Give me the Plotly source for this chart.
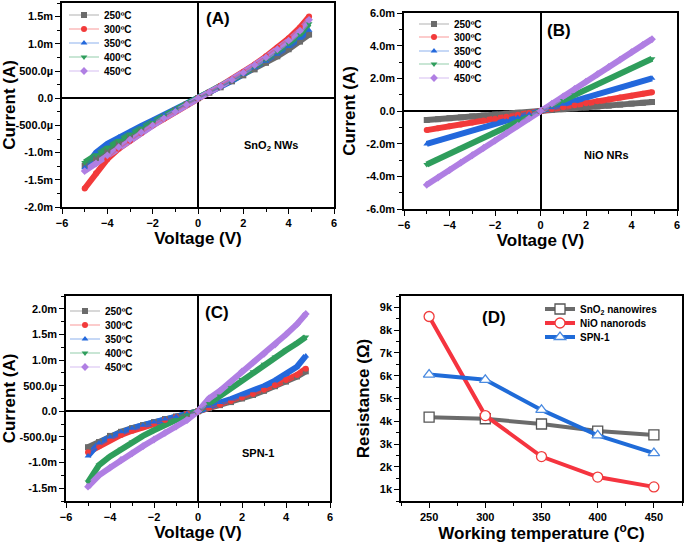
import plotly.graph_objects as go

# ---------------- data ----------------
voltage = [-5, -4.5, -4, -3.5, -3, -2.5, -2, -1.5, -1, -0.5, 0,
           0.5, 1, 1.5, 2, 2.5, 3, 3.5, 4, 4.5, 4.9]
temps = ["250ºC", "300ºC", "350ºC", "400ºC", "450ºC"]

# Panel A: SnO2 NWs, current in mA
a_250 = [-1.24, -1.1, -0.97, -0.84, -0.71, -0.58, -0.45, -0.34, -0.22, -0.11, 0, 0.1, 0.2, 0.31, 0.42, 0.53, 0.65, 0.77, 0.9, 1.04, 1.17]
a_300 = [-1.66, -1.38, -1.12, -0.93, -0.78, -0.64, -0.5, -0.38, -0.25, -0.12, 0, 0.11, 0.23, 0.35, 0.48, 0.62, 0.77, 0.93, 1.1, 1.3, 1.5]
a_350 = [-1.28, -1.0, -0.84, -0.72, -0.61, -0.51, -0.41, -0.31, -0.21, -0.1, 0, 0.1, 0.21, 0.32, 0.44, 0.56, 0.68, 0.81, 0.95, 1.1, 1.25]
a_400 = [-1.18, -1.04, -0.91, -0.78, -0.66, -0.55, -0.44, -0.33, -0.22, -0.11, 0, 0.1, 0.21, 0.33, 0.45, 0.58, 0.71, 0.85, 1.0, 1.17, 1.37]
a_450 = [-1.34, -1.2, -1.05, -0.9, -0.76, -0.63, -0.5, -0.37, -0.25, -0.12, 0, 0.11, 0.22, 0.34, 0.47, 0.61, 0.75, 0.9, 1.06, 1.24, 1.44]

# Panel B: NiO NRs, current in mA
b_250 = [-0.55, -0.5, -0.44, -0.39, -0.33, -0.28, -0.22, -0.17, -0.11, -0.06, 0, 0.06, 0.11, 0.17, 0.22, 0.28, 0.33, 0.39, 0.45, 0.5, 0.55]
b_300 = [-1.17, -1.05, -0.93, -0.82, -0.7, -0.58, -0.47, -0.35, -0.23, -0.12, 0, 0.12, 0.23, 0.35, 0.47, 0.59, 0.7, 0.82, 0.94, 1.06, 1.15]
b_350 = [-2.02, -1.82, -1.62, -1.42, -1.21, -1.01, -0.81, -0.61, -0.4, -0.2, 0, 0.2, 0.41, 0.61, 0.82, 1.02, 1.23, 1.43, 1.64, 1.84, 2.0]
b_400 = [-3.27, -2.94, -2.61, -2.28, -1.96, -1.63, -1.3, -0.98, -0.65, -0.33, 0, 0.33, 0.65, 0.98, 1.31, 1.63, 1.96, 2.29, 2.61, 2.94, 3.2]
b_450 = [-4.52, -4.07, -3.62, -3.16, -2.71, -2.26, -1.81, -1.36, -0.9, -0.45, 0, 0.45, 0.9, 1.35, 1.8, 2.25, 2.7, 3.15, 3.6, 4.05, 4.4]

# Panel C: SPN-1, current in mA
c_250 = [-0.7, -0.6, -0.48, -0.4, -0.33, -0.27, -0.21, -0.15, -0.1, -0.05, 0, 0.06, 0.12, 0.18, 0.25, 0.32, 0.4, 0.49, 0.58, 0.68, 0.78]
c_300 = [-0.8, -0.68, -0.55, -0.46, -0.38, -0.31, -0.24, -0.17, -0.11, -0.05, 0, 0.07, 0.13, 0.2, 0.27, 0.34, 0.42, 0.51, 0.61, 0.71, 0.83]
c_350 = [-0.87, -0.62, -0.5, -0.4, -0.33, -0.27, -0.21, -0.15, -0.1, -0.05, 0, 0.1, 0.17, 0.24, 0.32, 0.4, 0.49, 0.6, 0.72, 0.87, 1.08]
c_400 = [-1.38, -1.05, -0.88, -0.74, -0.6, -0.48, -0.37, -0.26, -0.16, -0.07, 0, 0.15, 0.3, 0.46, 0.62, 0.77, 0.92, 1.06, 1.19, 1.33, 1.45]
c_450 = [-1.47, -1.25, -1.1, -0.95, -0.82, -0.68, -0.55, -0.42, -0.3, -0.17, 0, 0.25, 0.4, 0.58, 0.78, 0.95, 1.12, 1.3, 1.5, 1.7, 1.9]

# Panel D: resistance (ohm) vs working temperature
work_temp = [250, 300, 350, 400, 450]
r_sno2 = [4180, 4110, 3880, 3570, 3400]
r_nio = [8600, 4250, 2450, 1550, 1120]
r_spn = [6050, 5820, 4500, 3380, 2600]

# tick labels
a_ytickvals = [-2, -1.5, -1, -0.5, 0, 0.5, 1, 1.5]
a_yticktext = ["-2.0m", "-1.5m", "-1.0m", "-500.0µ", "0.0", "500.0µ", "1.0m", "1.5m"]
b_ytickvals = [-6, -4, -2, 0, 2, 4, 6]
b_yticktext = ["-6.0m", "-4.0m", "-2.0m", "0.0", "2.0m", "4.0m", "6.0m"]
c_ytickvals = [-1.5, -1, -0.5, 0, 0.5, 1, 1.5, 2]
c_yticktext = ["-1.5m", "-1.0m", "-500.0µ", "0.0", "500.0µ", "1.0m", "1.5m", "2.0m"]
d_ytickvals = [1000, 2000, 3000, 4000, 5000, 6000, 7000, 8000, 9000]
d_yticktext = ["1k", "2k", "3k", "4k", "5k", "6k", "7k", "8k", "9k"]

# ---------------- style ----------------
W, H = 685, 543
FONT = "Liberation Sans, Arial, sans-serif"
colors = ["#6b6b6b", "#f23a3a", "#2368dc", "#2f9e5c", "#b07fe3"]
light = ["rgba(107,107,107,0.35)", "rgba(242,58,58,0.35)", "rgba(35,104,220,0.35)",
         "rgba(47,158,92,0.35)", "rgba(176,127,227,0.35)"]
symbols = ["square", "circle", "triangle-up", "triangle-down", "diamond"]

# legend placement (pixels): left x and row centres for each panel
legend_rows = {
    "A": (64, [15, 29, 43, 57, 71]),
    "B": (414, [24, 37, 51, 64, 78]),
    "C": (65, [311, 325, 339, 353, 367]),
    "D": (540, [309, 323, 337]),
}


def px_x(a, b):
    return [a / W, b / W]


def px_y(top, bottom):
    return [1 - bottom / H, 1 - top / H]


fig = go.Figure()
legend_layout = {}
legend_common = dict(font=dict(family=FONT, size=10, color="black", weight="bold"),
                     bgcolor="rgba(0,0,0,0)", borderwidth=0,
                     xanchor="left", yanchor="middle", itemwidth=30)
leg_counter = [0]


def new_legend(panel, row):
    leg_counter[0] += 1
    n = leg_counter[0]
    key = "legend" if n == 1 else f"legend{n}"
    lx, rows = legend_rows[panel]
    legend_layout[key] = dict(x=lx / W, y=1 - rows[row] / H, **legend_common)
    return key


panels = [
    ("A", "x", "y", [a_250, a_300, a_350, a_400, a_450]),
    ("B", "x2", "y2", [b_250, b_300, b_350, b_400, b_450]),
    ("C", "x3", "y3", [c_250, c_300, c_350, c_400, c_450]),
]
for pname, xa, ya, series in panels:
    for i, ys in enumerate(series):
        fig.add_trace(go.Scatter(x=voltage, y=ys, mode="lines", xaxis=xa, yaxis=ya,
                                 line=dict(color=colors[i], width=6), showlegend=False,
                                 hoverinfo="skip"))
    for i, ys in enumerate(series):
        fig.add_trace(go.Scatter(x=voltage, y=ys, mode="lines+markers", xaxis=xa, yaxis=ya,
                                 name=temps[i], legend=new_legend(pname, i),
                                 line=dict(color=light[i], width=1.5),
                                 marker=dict(color=colors[i], size=6, symbol=symbols[i])))

d_series = [("SnO<sub>2</sub> nanowires", r_sno2, "#6b6b6b", "#555555", "square"),
            ("NiO nanorods", r_nio, "#f5343f", "#f03c3c", "circle"),
            ("SPN-1", r_spn, "#1f6bd8", "#4a8ae0", "triangle-up")]
for i, (name, ys, lc, mc, sym) in enumerate(d_series):
    fig.add_trace(go.Scatter(x=work_temp, y=ys, mode="lines+markers", xaxis="x4", yaxis="y4",
                             name=name, legend=new_legend("D", i),
                             line=dict(color=lc, width=4),
                             marker=dict(color="white", size=10, symbol=sym,
                                         line=dict(color=mc, width=1.3))))

tickfont = dict(family=FONT, size=11, color="black", weight="bold")
titlefont = dict(family=FONT, size=17, color="black", weight="bold")
common = dict(showline=True, linecolor="black", linewidth=1.5, mirror=True,
              ticks="outside", ticklen=5, tickwidth=1.2, tickcolor="black",
              showgrid=False, tickfont=tickfont, automargin=False)


def iv_xaxis(dom, anchor):
    return dict(domain=dom, anchor=anchor, range=[-6, 6], tickmode="linear", tick0=-6, dtick=2,
                zeroline=True, zerolinecolor="black", zerolinewidth=2,
                minor=dict(ticks="outside", ticklen=3, tickcolor="black", tickmode="linear",
                           tick0=-6, dtick=1),
                title=dict(text="Voltage (V)", font=titlefont, standoff=0), **common)


def iv_yaxis(dom, anchor, rng, tv, tt, mdt):
    return dict(domain=dom, anchor=anchor, range=rng, tickmode="array", tickvals=tv, ticktext=tt,
                zeroline=True, zerolinecolor="black", zerolinewidth=2,
                minor=dict(ticks="outside", ticklen=3, tickcolor="black", tickmode="linear",
                           tick0=0, dtick=mdt),
                title=dict(text="Current (A)", font=titlefont, standoff=6), **common)


fig.update_layout(
    width=W, height=H, margin=dict(l=0, r=0, t=0, b=0, autoexpand=False),
    paper_bgcolor="white", plot_bgcolor="white",
    font=dict(family=FONT, color="black"),
    xaxis=iv_xaxis(px_x(62, 334), "y"),
    yaxis=iv_yaxis(px_y(3, 207), "x", [-2.0, 1.75], a_ytickvals, a_yticktext, 0.25),
    xaxis2=iv_xaxis(px_x(404, 677), "y2"),
    yaxis2=iv_yaxis(px_y(13, 209), "x2", [-6, 6], b_ytickvals, b_yticktext, 1),
    xaxis3=iv_xaxis(px_x(66, 330), "y3"),
    yaxis3=iv_yaxis(px_y(296, 501), "x3", [-1.75, 2.25], c_ytickvals, c_yticktext, 0.25),
    xaxis4=dict(domain=px_x(401, 682), anchor="y4", range=[225, 475], tickmode="linear",
                tick0=250, dtick=50, zeroline=False,
                minor=dict(ticks="outside", ticklen=3, tickcolor="black", tickmode="linear",
                           tick0=225, dtick=25),
                title=dict(text="Working temperature (<sup>o</sup>C)", font=titlefont, standoff=0),
                **common),
    yaxis4=dict(domain=px_y(296, 501), anchor="x4", range=[500, 9500], tickmode="array",
                tickvals=d_ytickvals, ticktext=d_yticktext, zeroline=False,
                minor=dict(ticks="outside", ticklen=3, tickcolor="black", tickmode="linear",
                           tick0=500, dtick=500),
                title=dict(text="Resistance (Ω)", font=titlefont, standoff=6), **common),
    **legend_layout,
)

ann_font_big = dict(family=FONT, size=17, color="black", weight="bold")
ann_font_small = dict(family=FONT, size=11, color="black", weight="bold")
annots = [
    ("(A)", 218, 18, ann_font_big),
    ("SnO<sub>2</sub> NWs", 271, 146, ann_font_small),
    ("(B)", 559, 31, ann_font_big),
    ("NiO NRs", 606, 155, ann_font_small),
    ("(C)", 217, 312, ann_font_big),
    ("SPN-1", 258, 453, ann_font_small),
    ("(D)", 494, 317, ann_font_big),
]
for text, ax, ay, f in annots:
    fig.add_annotation(text=text, x=ax / W, y=1 - ay / H, xref="paper", yref="paper",
                       showarrow=False, font=f, xanchor="center", yanchor="middle")

fig.write_html("out.html", config={"displayModeBar": False},
               post_script="document.body.style.margin='0';document.body.style.overflow='hidden';")
